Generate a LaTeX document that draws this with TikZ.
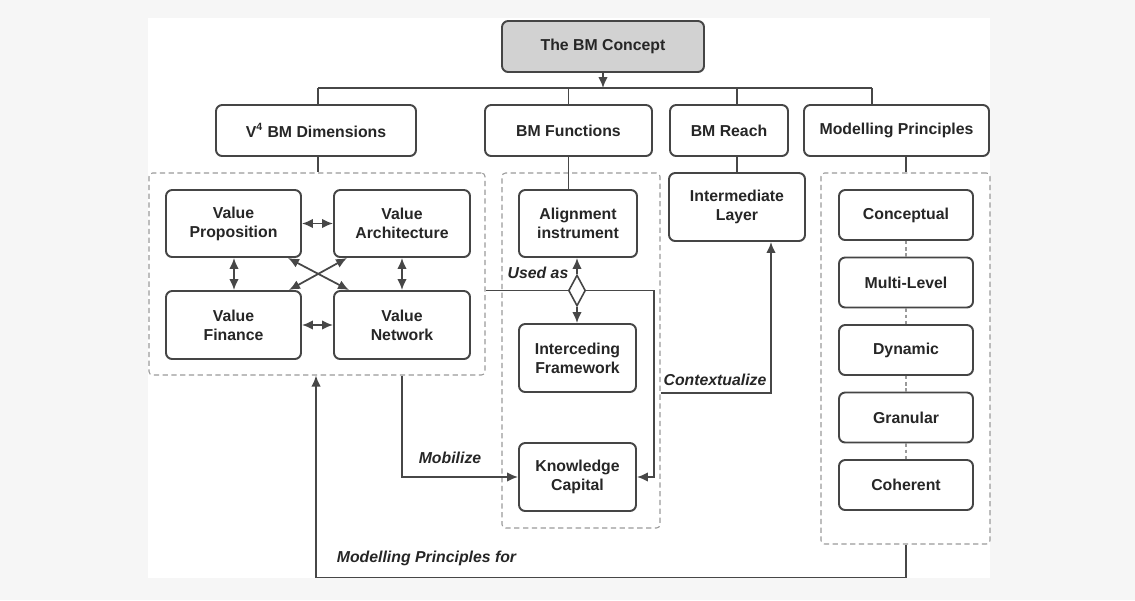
\documentclass[tikz,border=0pt]{standalone}
\usepackage{fontspec}
\setmainfont{Liberation Sans}
\usetikzlibrary{arrows.meta, positioning, calc, shapes.geometric}
\definecolor{BoxLine}{HTML}{454545}
\definecolor{LinkGray}{HTML}{474747}
\definecolor{DashGray}{HTML}{9A9A9A}
\definecolor{ConceptFill}{HTML}{D2D2D2}
\definecolor{TextGray}{HTML}{262626}
\definecolor{PageGray}{HTML}{F6F6F6}
\tikzset{
  box/.style={draw=BoxLine, line width=1.1pt, rounded corners=3.5pt, fill=white, align=center, inner sep=2pt, text=TextGray, font=\fontsize{9}{10.8}\selectfont\bfseries},
  conceptbox/.style={box, fill=ConceptFill},
  groupbox/.style={draw=DashGray, line width=0.6pt, dash pattern=on 3pt off 2pt, rounded corners=2pt, inner sep=0pt},
  lbl/.style={text=TextGray, inner sep=0pt, font=\fontsize{9}{10.8}\selectfont\bfseries\itshape},
  link/.style={line width=1pt, draw=LinkGray},
  arrow/.style={-{Latex[length=2.2mm, width=1.9mm]}, line width=1pt, draw=LinkGray},
  dblarrow/.style={{Latex[length=2.2mm, width=1.9mm]}-{Latex[length=2.2mm, width=1.9mm]}, line width=1pt, draw=LinkGray},
  dashlink/.style={line width=0.6pt, draw=DashGray, dash pattern=on 2pt off 1.5pt}
}

\begin{document}
\begin{tikzpicture}
\useasboundingbox (0,0) rectangle (22.7,-12);
\fill[PageGray] (0,0) rectangle (22.7,-12);
\fill[white] (2.96,-0.36) rectangle (19.8,-11.56);

% top level
\node[conceptbox, minimum width=4.04cm, minimum height=1.02cm] (concept) at (12.06,-0.93) {The BM Concept};
\node[box, minimum width=4.0cm, minimum height=1.02cm] (dims) at (6.32,-2.61) {V\textsuperscript{4} BM Dimensions};
\node[box, minimum width=3.34cm, minimum height=1.02cm] (funcs) at (11.37,-2.61) {BM Functions};
\node[box, minimum width=2.36cm, minimum height=1.02cm] (reach) at (14.58,-2.61) {BM Reach};
\node[box, minimum width=3.7cm, minimum height=1.02cm] (mp) at (17.93,-2.61) {Modelling Principles};

% dashed groups
\node[groupbox, minimum width=6.72cm, minimum height=4.04cm] (dimgrp) at (6.34,-5.48) {};
\node[groupbox, minimum width=3.16cm, minimum height=7.1cm] (fungrp) at (11.62,-7.01) {};
\node[groupbox, minimum width=3.38cm, minimum height=7.42cm] (mpgrp) at (18.11,-7.17) {};

% V4 dimensions
\node[box, minimum width=2.7cm, minimum height=1.34cm] (vp) at (4.67,-4.47) {Value\\Proposition};
\node[box, minimum width=2.72cm, minimum height=1.34cm] (va) at (8.04,-4.47) {Value\\Architecture};
\node[box, minimum width=2.7cm, minimum height=1.36cm] (vf) at (4.67,-6.5) {Value\\Finance};
\node[box, minimum width=2.72cm, minimum height=1.36cm] (vn) at (8.04,-6.5) {Value\\Network};

% functions and reach
\node[box, minimum width=2.36cm, minimum height=1.34cm] (align) at (11.56,-4.47) {Alignment\\instrument};
\node[box, minimum width=2.34cm, minimum height=1.36cm] (interc) at (11.55,-7.16) {Interceding\\Framework};
\node[box, minimum width=2.34cm, minimum height=1.36cm] (kc) at (11.55,-9.54) {Knowledge\\Capital};
\node[box, minimum width=2.72cm, minimum height=1.36cm] (inter) at (14.74,-4.14) {Intermediate\\Layer};
\node[diamond, draw=BoxLine, line width=0.9pt, fill=white, inner sep=0pt, minimum width=0.34cm, minimum height=0.62cm] (diam) at (11.54,-5.81) {};

% modelling principles
\foreach \name/\txt [count=\i from 0] in {conceptual/Conceptual, multilevel/Multi-Level, dynamic/Dynamic, granular/Granular, coherent/Coherent}
  \node[box, minimum width=2.68cm, minimum height=1.0cm] (\name) at (18.12,-4.3-1.35*\i) {\txt};
\foreach \a/\b in {conceptual/multilevel, multilevel/dynamic, dynamic/granular, granular/coherent}
  \draw[dashlink] (\a.south) -- (\b.north);

% bus below the concept
\coordinate (busL) at (6.36,-1.76);
\coordinate (busR) at (17.44,-1.76);
\draw[link] (busL) -- (busR);
\draw[link] (busL) -- (busL |- dims.north);
\draw[link] (funcs.north |- busL) -- (funcs.north);
\draw[link] (inter.north |- busL) -- (inter.north |- reach.north);
\draw[link] (busR) -- (busR |- mp.north);
\draw[arrow] (concept.south) -- (concept.south |- busL);

% heads to their groups
\draw[link] (busL |- dims.south) -- (busL |- dimgrp.north);
\draw[link] (funcs.south) -- (funcs.south |- align.north);
\draw[link] (inter.north |- reach.south) -- (inter.north);
\draw[link] (conceptual.north |- mp.south) -- (conceptual.north |- mpgrp.north);

% links between the dimensions
\draw[dblarrow] (vp) -- (va);
\draw[dblarrow] (vf) -- (vn);
\draw[dblarrow] (vp.south -| 4.68,0) -- (vf.north -| 4.68,0);
\draw[dblarrow] (va) -- (vn);
\draw[dblarrow] ($(vp.south east)+(-0.28,0)$) -- ($(vn.north west)+(0.32,0)$);
\draw[dblarrow] ($(va.south west)+(0.28,0)$) -- ($(vf.north east)+(-0.26,0)$);

% used as
\draw[link] (dimgrp.east |- diam.west) -- (diam.west);
\draw[arrow] (diam.north) -- (diam.north |- align.south);
\draw[arrow] (diam.south) -- (diam.south |- interc.north);
\draw[arrow] (diam.east) -| ($(kc.east)+(0.34,0)$) -- (kc.east);
\node[lbl] (usedas) at (10.76,-5.46) {Used as};

% mobilize, contextualize, modelling principles for
\draw[arrow] (va.south |- dimgrp.south) |- (kc.west);
\node[lbl] (mobilize) at (9.0,-9.16) {Mobilize};
\draw[arrow] (fungrp.east |- interc.south) -| ($(inter.south)+(0.68,0)$);
\node[lbl] (context) at (14.3,-7.6) {Contextualize};
\draw[arrow] (conceptual.south |- mpgrp.south) -- ++(0,-0.66) -| (dims.south |- dimgrp.south);
\node[lbl] (mpfor) at (8.53,-11.16) {Modelling Principles for};
\end{tikzpicture}
\end{document}
